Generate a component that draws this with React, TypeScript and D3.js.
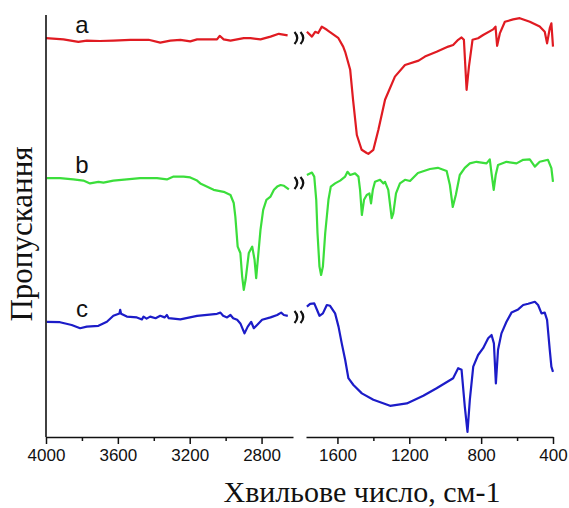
import { useEffect, useRef } from 'react';
import * as d3 from 'd3';

const WIDTH = 569;
const HEIGHT = 508;

// x-axis is broken: two wavenumber segments
const LEFT_DOMAIN: [number, number] = [4000, 2625];
const RIGHT_DOMAIN: [number, number] = [1775, 400];
const LEFT_RANGE: [number, number] = [46, 293];
const RIGHT_RANGE: [number, number] = [306, 553];
const Y_TOP = 15;
const Y_BOTTOM = 437;

const leftTicks = [4000, 3600, 3200, 2800];
const rightTicks = [1600, 1200, 800, 400];
const leftMinor = [3800, 3400, 3000];
const rightMinor = [1400, 1000, 600];

const seriesNames = ['a', 'b', 'c'];
const seriesColors = ['#e01b22', '#3bde3b', '#1c1cc8'];
const breakLevels = [99.75, 63.5, 30];

// [wavenumber, transmittance (offset, a.u.)]
const aLeft: [number, number][] = [
    [4000, 99.7], [3903, 99.4], [3820, 98.8], [3773, 99.1], [3700, 99.0], [3625, 99.1],
    [3531, 99.3], [3429, 99.3], [3364, 98.6], [3308, 99.1], [3252, 99.3], [3197, 98.9],
    [3159, 99.4], [3048, 99.4], [3033, 100.3], [3011, 99.4], [2973, 99.1], [2899, 99.7],
    [2862, 99.7], [2806, 99.4], [2750, 100.1], [2704, 100.8], [2655, 100.4],
];
const aRight: [number, number][] = [
    [1770, 101.3], [1742, 100.1], [1724, 101.3], [1707, 101], [1687, 102.6], [1659, 101.8],
    [1596, 99.8], [1568, 97.6], [1557, 96.3], [1529, 91.8], [1513, 84.3], [1492, 75.5],
    [1474, 73], [1465, 71.8], [1437, 71], [1428, 70.8], [1400, 71.8], [1372, 76.8],
    [1335, 84.3], [1280, 90.1], [1224, 93], [1148, 94.1], [1113, 95.1], [1048, 96.3],
    [983, 97.6], [956, 98], [928, 99.3], [909, 99.9], [896, 99.3], [881, 86.8], [868, 92.6],
    [848, 99.3], [817, 99.7], [789, 100.5], [733, 101.9], [720, 102.6], [711, 97.8],
    [696, 100.9], [668, 103.8], [622, 104.4], [585, 104.7], [529, 103.8], [474, 102.6],
    [446, 101.3], [433, 98.4], [418, 102.2], [409, 103.4], [400, 97.6],
];
const bLeft: [number, number][] = [
    [3996, 64.7], [3922, 64.7], [3848, 64.4], [3792, 64.1], [3755, 63.4], [3708, 63.8],
    [3680, 63.6], [3625, 64.1], [3550, 64.4], [3476, 64.7], [3382, 64.7], [3327, 64.4],
    [3290, 65.1], [3234, 65.1], [3197, 64.9], [3159, 64.1], [3141, 63.4], [3067, 61.8],
    [3011, 61.3], [2973, 60.5], [2955, 58.5], [2946, 55.1], [2933, 47.6], [2918, 46],
    [2908, 40.1], [2899, 36.8], [2889, 39.3], [2871, 46], [2852, 47.6], [2839, 44.3],
    [2830, 39.7], [2821, 44.3], [2806, 51.8], [2791, 56.8], [2773, 59.3], [2750, 60.1],
    [2731, 61.8], [2713, 62.6], [2694, 63], [2675, 62.8], [2648, 61.9],
];
const bRight: [number, number][] = [
    [1770, 65.5], [1742, 66.1], [1729, 65.1], [1718, 59.3], [1711, 51], [1700, 42.6],
    [1691, 40.5], [1681, 42.6], [1668, 51], [1650, 59.3], [1637, 62.6], [1613, 63.4],
    [1585, 64.1], [1557, 65.1], [1544, 66.3], [1529, 65.5], [1502, 65.9], [1483, 65.1],
    [1474, 61.8], [1464, 55.5], [1452, 59.3], [1437, 60.5], [1422, 60.9], [1413, 58.4],
    [1403, 61.8], [1391, 63.8], [1363, 64.3], [1344, 63.4], [1335, 63.8], [1317, 61.8],
    [1298, 54.7], [1289, 55.9], [1274, 60.9], [1252, 63.4], [1224, 64.3], [1196, 64],
    [1152, 66], [1085, 67], [1041, 67.3], [992, 66.5], [974, 63], [958, 57.5], [941, 60.5],
    [919, 65.5], [891, 67.3], [863, 68.4], [826, 68.8], [770, 68.4], [752, 69.4],
    [741, 65.5], [730, 61.8], [719, 65.5], [706, 68], [659, 68.8], [603, 68.4], [566, 69.3],
    [529, 69.4], [501, 67.6], [474, 68.8], [428, 69.3], [409, 67.2], [400, 63.8],
];
const cLeft: [number, number][] = [
    [3996, 28.8], [3922, 28.7], [3857, 28], [3810, 27.2], [3773, 27.6], [3708, 27.8],
    [3661, 28.8], [3625, 30.3], [3591, 30.9], [3587, 31.8], [3582, 30.8], [3550, 30.1],
    [3494, 29.9], [3466, 29.4], [3457, 30.1], [3440, 29.6], [3420, 30.1], [3390, 29.7],
    [3364, 30.3], [3340, 29.9], [3327, 30.5], [3317, 29.7], [3252, 29.4], [3159, 30.3],
    [3048, 30.8], [3029, 31.1], [3014, 30.3], [2992, 29.9], [2973, 30.5], [2958, 29.7],
    [2936, 29.3], [2918, 28.4], [2895, 25.9], [2877, 27.6], [2858, 28.8], [2843, 27.2],
    [2825, 28], [2797, 29.3], [2750, 29.9], [2713, 30.5], [2691, 31.1], [2676, 30.5],
    [2654, 30.3],
];
const cRight: [number, number][] = [
    [1770, 32.6], [1752, 33.3], [1729, 33.4], [1714, 31.8], [1700, 30.3], [1681, 30.9],
    [1659, 33], [1641, 32.8], [1613, 30.9], [1594, 27.6], [1576, 23.4], [1557, 19.3],
    [1539, 14.7], [1511, 13], [1464, 10.9], [1400, 9.3], [1307, 7.8], [1214, 8.4],
    [1122, 10.3], [1048, 12.2], [956, 14.7], [928, 17.2], [909, 16.8], [891, 7.6],
    [876, 1.3], [863, 9.3], [844, 17.6], [817, 20.5], [789, 22.2], [761, 24.7], [742, 25.5],
    [729, 23.4], [718, 13.4], [706, 21.8], [687, 25.9], [659, 28.8], [631, 31.1], [594, 31.9],
    [566, 33], [538, 33.3], [501, 33.8], [483, 33], [464, 30.9], [446, 31.1], [433, 29.3],
    [418, 21.8], [409, 17.6], [400, 16.3],
];

const leftSeries = [aLeft, bLeft, cLeft];
const rightSeries = [aRight, bRight, cRight];

const SANS = '"Liberation Sans", Arial, sans-serif';
const SERIF = '"Liberation Serif", "Times New Roman", serif';

const App = () => {
    const axesRef = useRef<SVGGElement>(null);

    const xLeft = d3.scaleLinear().domain(LEFT_DOMAIN).range(LEFT_RANGE);
    const xRight = d3.scaleLinear().domain(RIGHT_DOMAIN).range(RIGHT_RANGE);
    const yScale = d3.scaleLinear().domain([0, 105.5]).range([Y_BOTTOM, Y_TOP]);

    useEffect(() => {
        const g = d3.select(axesRef.current);
        g.selectAll('*').remove();

        const drawAxis = (scale: d3.ScaleLinear<number, number>, major: number[], minor: number[]) => {
            const major_g = g
                .append('g')
                .attr('transform', `translate(0,${Y_BOTTOM})`)
                .call(d3.axisBottom(scale).tickValues(major).tickSize(7).tickSizeOuter(0).tickPadding(5).tickFormat(d3.format('d')));
            major_g.select('.domain').attr('stroke-width', 1.6).attr('stroke', '#111');
            major_g.selectAll('.tick line').attr('stroke-width', 1.5).attr('stroke', '#111');
            major_g
                .selectAll('.tick text')
                .attr('font-family', SANS)
                .attr('font-size', 17)
                .attr('fill', '#111');

            const minor_g = g
                .append('g')
                .attr('transform', `translate(0,${Y_BOTTOM})`)
                .call(d3.axisBottom(scale).tickValues(minor).tickSize(4).tickSizeOuter(0).tickFormat(() => ''));
            minor_g.select('.domain').remove();
            minor_g.selectAll('.tick line').attr('stroke-width', 1.5).attr('stroke', '#111');
        };

        drawAxis(xLeft, leftTicks, leftMinor);
        drawAxis(xRight, rightTicks, rightMinor);

        g.append('line')
            .attr('x1', LEFT_RANGE[0])
            .attr('x2', LEFT_RANGE[0])
            .attr('y1', Y_TOP)
            .attr('y2', Y_BOTTOM)
            .attr('stroke', '#111')
            .attr('stroke-width', 1.6);
    }, []);

    const lineLeft = d3
        .line<[number, number]>()
        .x((d) => xLeft(d[0]))
        .y((d) => yScale(d[1]));
    const lineRight = d3
        .line<[number, number]>()
        .x((d) => xRight(d[0]))
        .y((d) => yScale(d[1]));

    const breakX = (LEFT_RANGE[1] + RIGHT_RANGE[0]) / 2;

    return (
        <svg width={WIDTH} height={HEIGHT} style={{ position: 'absolute', left: 0, top: 0, background: '#fff' }}>
            {seriesNames.map((name, i) => (
                <g key={name}>
                    <path d={lineLeft(leftSeries[i]) || ''} fill="none" stroke={seriesColors[i]} strokeWidth={2.2} strokeLinejoin="round" />
                    <path d={lineRight(rightSeries[i]) || ''} fill="none" stroke={seriesColors[i]} strokeWidth={2.2} strokeLinejoin="round" />
                    <text
                        x={xLeft(3800)}
                        y={yScale(leftSeries[i][0][1]) - 5}
                        textAnchor="middle"
                        fontFamily={SANS}
                        fontSize={24}
                        fill="#111"
                    >
                        {name}
                    </text>
                    {[-3.5, 2.5].map((dx) => {
                        const y0 = yScale(breakLevels[i]);
                        const x0 = breakX + dx;
                        return (
                            <path
                                key={dx}
                                d={`M${x0 - 1.5},${y0 - 6} Q${x0 + 4},${y0} ${x0 - 1.5},${y0 + 6}`}
                                fill="none"
                                stroke="#111"
                                strokeWidth={2.2}
                            />
                        );
                    })}
                </g>
            ))}
            <g ref={axesRef} />
            <text
                x={362}
                y={502}
                textAnchor="middle"
                fontFamily={SERIF}
                fontSize={30}
                fill="#111"
            >
                Хвильове число, см-1
            </text>
            <text
                transform={`translate(32,${(Y_TOP + Y_BOTTOM) / 2 + 8}) rotate(-90)`}
                textAnchor="middle"
                fontFamily={SERIF}
                fontSize={31}
                fill="#111"
            >
                Пропускання
            </text>
        </svg>
    );
};

export default App;
